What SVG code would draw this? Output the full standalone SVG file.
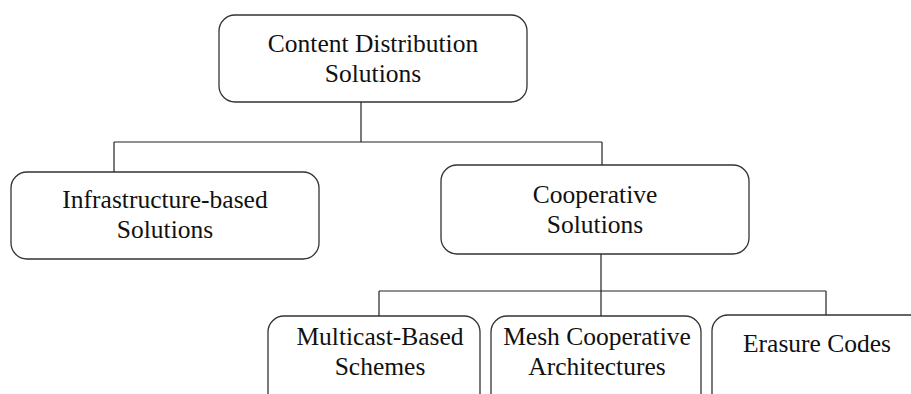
<svg xmlns="http://www.w3.org/2000/svg" width="911" height="394" viewBox="0 0 911 394">
<style>
.box{fill:#fff;stroke:#333;stroke-width:1.3}
.ln{fill:none;stroke:#222;stroke-width:1.2}
text{font-family:"Liberation Serif","Times New Roman",serif;font-size:25.5px;fill:#111;text-anchor:middle}
</style>
<rect width="911" height="394" fill="#fff"/>
<g id="connectors">
<path class="ln" d="M361,102 V142 M114,142 H602 M114,142 V172 M602,142 V165"/>
<path class="ln" d="M601,254 V316 M379,291 H826 M379,291 V316 M826,291 V316"/>
</g>
<g id="n-root">
<rect class="box" x="219" y="15" width="308" height="87" rx="16"/>
<text x="373" y="52">Content Distribution</text>
<text x="373" y="82">Solutions</text>
</g>
<g id="n-infra">
<rect class="box" x="11" y="172" width="308" height="87" rx="16"/>
<text x="165" y="208">Infrastructure-based</text>
<text x="165" y="238">Solutions</text>
</g>
<g id="n-coop">
<rect class="box" x="441" y="165" width="308" height="89" rx="16"/>
<text x="595" y="203">Cooperative</text>
<text x="595" y="233">Solutions</text>
</g>
<g id="n-multicast">
<rect class="box" x="268" y="316" width="212" height="110" rx="16"/>
<text x="380" y="345">Multicast-Based</text>
<text x="380" y="375">Schemes</text>
</g>
<g id="n-mesh">
<rect class="box" x="491" y="316" width="210" height="110" rx="16"/>
<text x="597" y="345">Mesh Cooperative</text>
<text x="597" y="375">Architectures</text>
</g>
<g id="n-erasure">
<rect class="box" x="712" y="315" width="220" height="110" rx="16"/>
<text x="817" y="352">Erasure Codes</text>
</g>
</svg>
